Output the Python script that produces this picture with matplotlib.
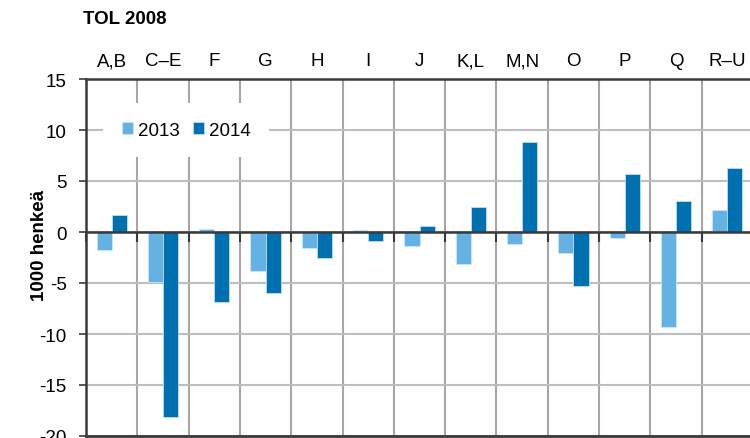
import numpy as np
import matplotlib
matplotlib.use("Agg")
import matplotlib.pyplot as plt

plt.rcParams['font.family'] = ['Liberation Sans', 'DejaVu Sans']
plt.rcParams['axes.unicode_minus'] = False

# data (1000 persons, change)
categories = ["A,B", "C–E", "F", "G", "H", "I", "J", "K,L", "M,N", "O", "P", "Q", "R–U"]
val_2013 = [-1.8, -4.9, 0.3, -3.8, -1.6, 0.2, -1.4, -3.1, -1.2, -2.1, -0.6, -9.3, 2.2]
val_2014 = [1.7, -18.1, -6.9, -6.0, -2.5, -0.9, 0.6, 2.5, 8.8, -5.3, 5.7, 3.0, 6.3]
y_ticks = [-20, -15, -10, -5, 0, 5, 10, 15]

light = "#64B1E4"
dark = "#0071B0"
axis_col = "#3A3A3A"
fs = 13.5

fig = plt.figure(figsize=(7.5, 4.39), dpi=100)
ax = fig.add_axes([86/750, 2/439, 667/750, 357/439])

x = np.arange(len(categories))
w = 0.295
ax.bar(x - w/2, val_2013, w, color=light, edgecolor="#CDE6F6", linewidth=0.6, label="2013", zorder=3)
ax.bar(x + w/2, val_2014, w, color=dark, edgecolor="#BFDDF0", linewidth=0.6, label="2014", zorder=3)

ax.set_xlim(-0.5, len(categories) - 0.5)
ax.set_ylim(-20, 15)
ax.set_yticks(y_ticks)
ax.set_yticklabels([str(v) for v in y_ticks], fontsize=fs)

# boundaries as major ticks (grid + small marks on the zero line), names as minor ticks on top
ax.set_xticks(np.arange(len(categories) + 1) - 0.5)
ax.set_xticks(x, minor=True)
ax.set_xticklabels(categories, minor=True)
ax.tick_params(axis='x', which='major', bottom=True, top=False, labelbottom=False,
               direction='out', length=7, width=1.5, color=axis_col)
ax.tick_params(axis='x', which='minor', bottom=False, top=True, labeltop=True,
               labelbottom=False, length=0, pad=7, labelsize=fs)
ax.tick_params(axis='y', direction='out', length=5, width=1.2, color=axis_col, pad=9)

ax.grid(axis='x', which='major', color="#A6A6A6", linewidth=1.5, zorder=0)
ax.grid(axis='y', color="#BEBEBE", linewidth=1.5, zorder=0)
ax.set_axisbelow(True)

ax.spines['bottom'].set_position(('data', 0))
ax.spines['bottom'].set_color(axis_col)
ax.spines['bottom'].set_linewidth(1.8)
ax.spines['bottom'].set_zorder(4)
ax.spines['left'].set_color(axis_col)
ax.spines['left'].set_linewidth(1.8)
ax.spines['top'].set_color(axis_col)
ax.spines['top'].set_linewidth(1.8)
ax.spines['right'].set_visible(False)
ax.axhline(-20, color=axis_col, linewidth=2, clip_on=False, zorder=4)

leg = ax.legend(loc='center', bbox_to_anchor=(0.15, 0.857), ncol=2, fontsize=fs,
                frameon=True, facecolor='white', edgecolor='none', framealpha=1,
                handlelength=0.6, handleheight=0.6, handletextpad=0.25,
                columnspacing=0.7, borderpad=1.0, fancybox=False)
leg.set_zorder(5)

fig.text(83/750, 1 - 20/439, "TOL 2008", fontsize=fs, fontweight='bold', va='center', ha='left')
fig.text(40/750, 1 - 245/439, "1000 henkeä", fontsize=fs, fontweight='bold',
         rotation=90, va='center', ha='center')

fig.savefig("out.png", dpi=100)
